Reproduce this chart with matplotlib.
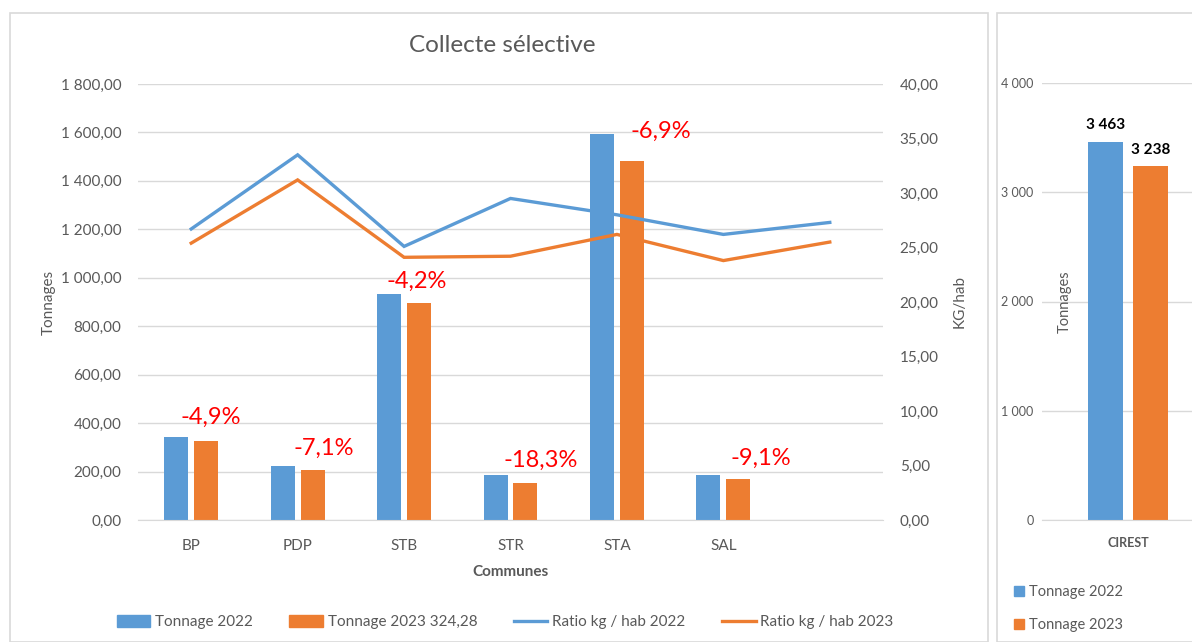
import matplotlib.pyplot as plt
from matplotlib.patches import Rectangle, Patch
from matplotlib.lines import Line2D
from matplotlib.ticker import FuncFormatter, MultipleLocator

plt.rcParams['font.family'] = ['Lato', 'DejaVu Sans']

# data
communes = ['BP', 'PDP', 'STB', 'STR', 'STA', 'SAL', '']
tonnage_2022 = [341, 222, 933, 186, 1592, 186]
tonnage_2023 = [324.28, 206, 894, 152, 1482, 169]
ratio_2022 = [26.7, 33.5, 25.1, 29.5, 28.0, 26.2, 27.3]
ratio_2023 = [25.4, 31.2, 24.1, 24.2, 26.2, 23.8, 25.5]
variations = ['-4,9%', '-7,1%', '-4,2%', '-18,3%', '-6,9%', '-9,1%']

cirest_2022 = 3463
cirest_2023 = 3238

BLUE = '#5B9BD5'
ORANGE = '#ED7D31'
GRID = '#D9D9D9'
TXT = '#595959'


def fr_num(v, dec):
    s = f"{v:,.{dec}f}"
    return s.replace(',', ' ').replace('.', ',')


fig = plt.figure(figsize=(11.92, 6.42), dpi=100)

# chart frames
fig.patches.append(Rectangle((10/1192, 0), 978/1192, 1 - 13/642, transform=fig.transFigure,
                             fill=False, edgecolor=GRID, lw=1.2))
fig.patches.append(Rectangle((997/1192, 0), 200/1192, 1 - 13/642, transform=fig.transFigure,
                             fill=False, edgecolor=GRID, lw=1.2))

# main chart
ax = fig.add_axes([138/1192, 1 - 520/642, 745/1192, 436/642])
n = len(communes)
xs = list(range(len(tonnage_2022)))
w = 0.225
ax.bar([x - 0.14 for x in xs], tonnage_2022, width=w, color=BLUE, zorder=2)
ax.bar([x + 0.14 for x in xs], tonnage_2023, width=w, color=ORANGE, zorder=2)
ax.set_xlim(-0.5, n - 0.5)
ax.set_ylim(0, 1800)
ax.yaxis.set_major_locator(MultipleLocator(200))
ax.yaxis.set_major_formatter(FuncFormatter(lambda v, p: fr_num(v, 2)))
ax.set_xticks(range(n))
ax.set_xticklabels(communes)
ax.grid(axis='y', color=GRID, lw=1, zorder=0)
ax.set_axisbelow(True)
for s in ax.spines.values():
    s.set_visible(False)
ax.spines['bottom'].set_visible(True)
ax.spines['bottom'].set_color(GRID)
ax.tick_params(axis='both', length=0, colors=TXT, labelsize=11)
ax.tick_params(axis='y', pad=12)
ax.tick_params(axis='x', pad=14)
ax.set_ylabel('Tonnages', color=TXT, fontsize=11)
ax.yaxis.set_label_coords(-(138 - 56) / 745, 0.5)
ax.set_xlabel('Communes', color=TXT, fontsize=11, fontweight='bold', labelpad=8)

label_offsets = [(3, 10), (8, 8), (-2, 8), (11, 9), (21, 14), (16, 7)]
for i, (lab, v) in enumerate(zip(variations, tonnage_2023)):
    dx, dy = label_offsets[i]
    ax.annotate(lab, (i + 0.14, v), xytext=(dx, dy), textcoords='offset points',
                ha='center', va='bottom', color='#FF0000', fontsize=17, zorder=5)

ax2 = ax.twinx()
ax2.plot(range(n), ratio_2022, color=BLUE, lw=2.4, solid_joinstyle='miter')
ax2.plot(range(n), ratio_2023, color=ORANGE, lw=2.4, solid_joinstyle='miter')
ax2.set_ylim(0, 40)
ax2.yaxis.set_major_locator(MultipleLocator(5))
ax2.yaxis.set_major_formatter(FuncFormatter(lambda v, p: fr_num(v, 2)))
for s in ax2.spines.values():
    s.set_visible(False)
ax2.tick_params(axis='y', length=0, colors=TXT, labelsize=11, pad=12)
ax2.set_ylabel('KG/hab', color=TXT, fontsize=11, labelpad=10)

fig.text(502/1192, 1 - 45/642, 'Collecte sélective', ha='center', va='center',
         fontsize=17.5, color=TXT)

handles = [Patch(color=BLUE), Patch(color=ORANGE),
           Line2D([], [], color=BLUE, lw=2.4), Line2D([], [], color=ORANGE, lw=2.4)]
labels = ['Tonnage 2022', 'Tonnage 2023 324,28', 'Ratio kg / hab 2022', 'Ratio kg / hab 2023']
leg = fig.legend(handles, labels, loc='center', bbox_to_anchor=(505/1192, 1 - 622/642),
                 ncol=4, frameon=False, fontsize=11, handlelength=2.2, handleheight=0.9,
                 columnspacing=2.4, handletextpad=0.3)
for t in leg.get_texts():
    t.set_color(TXT)

# right panel : CIREST total
axr = fig.add_axes([1042/1192, 1 - 520/642, 172/1192, 437/642])
axr.bar([-0.13], [cirest_2022], width=0.2, color=BLUE, zorder=2)
axr.bar([0.13], [cirest_2023], width=0.2, color=ORANGE, zorder=2)
axr.set_xlim(-0.5, 0.5)
axr.set_ylim(0, 4000)
axr.yaxis.set_major_locator(MultipleLocator(1000))
axr.yaxis.set_major_formatter(FuncFormatter(lambda v, p: fr_num(v, 0)))
axr.set_xticks([0])
axr.set_xticklabels(['CIREST'], fontweight='bold')
axr.grid(axis='y', color=GRID, lw=1, zorder=0)
axr.set_axisbelow(True)
for s in axr.spines.values():
    s.set_visible(False)
axr.spines['bottom'].set_visible(True)
axr.spines['bottom'].set_color(GRID)
axr.tick_params(axis='both', length=0, colors=TXT, labelsize=9)
axr.tick_params(axis='y', pad=6)
axr.tick_params(axis='x', pad=12)
axr.set_ylabel('Tonnages', color=TXT, fontsize=10.5)
axr.yaxis.set_label_coords((1072 - 1042) / 172, 0.5)
for x, v in [(-0.13, cirest_2022), (0.13, cirest_2023)]:
    axr.annotate(fr_num(v, 0), (x, v), xytext=(0, 7), textcoords='offset points',
                 ha='center', va='bottom', fontsize=11, fontweight='bold', color='black')

legr = fig.legend([Patch(color=BLUE), Patch(color=ORANGE)], ['Tonnage 2022', 'Tonnage 2023'],
                  loc='upper left', bbox_to_anchor=(1001/1192, 1 - 572/642), frameon=False,
                  fontsize=10.5, handlelength=0.7, handleheight=0.7, handletextpad=0.3,
                  labelspacing=1.3)
for t in legr.get_texts():
    t.set_color(TXT)

fig.savefig('out.png', dpi=100)
